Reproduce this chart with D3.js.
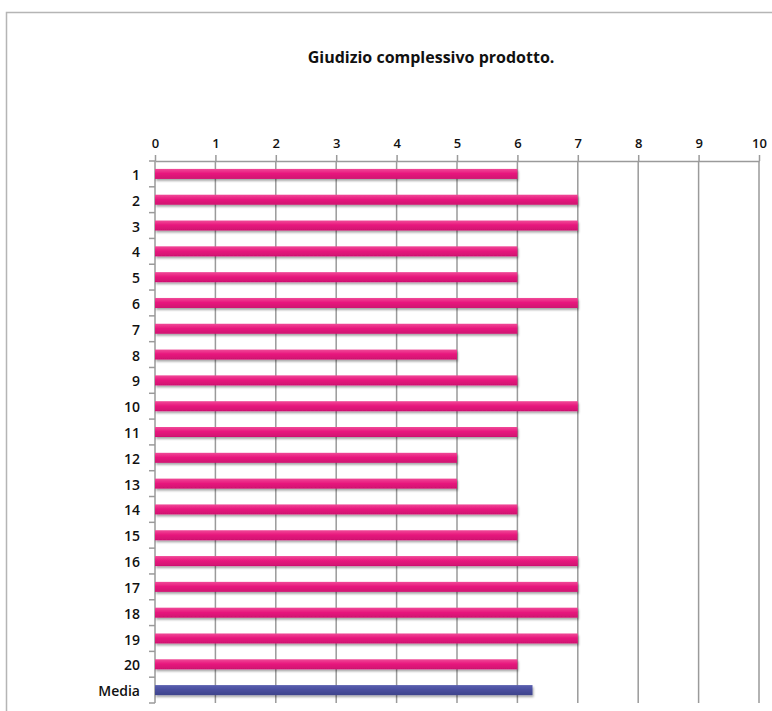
<!DOCTYPE html>
<html>
<head>
<meta charset="utf-8">
<script src="https://cdn.jsdelivr.net/npm/d3@7"></script>
<style>
  html, body { margin: 0; padding: 0; background: #fff; }
  svg { display: block; }
  text { font-family: "Open Sans", "Noto Sans", sans-serif; fill: #111; }
</style>
</head>
<body>
<svg id="chart" width="772" height="711"></svg>
<script>
// Product ratings per respondent, plus the overall mean
const respondents = ["1","2","3","4","5","6","7","8","9","10","11","12","13","14","15","16","17","18","19","20"];
const ratings = [6,7,7,6,6,7,6,5,6,7,6,5,5,6,6,7,7,7,7,6];
const meanLabel = "Media";
const xTicks = [0,1,2,3,4,5,6,7,8,9,10];
const title = "Giudizio complessivo prodotto.";

const meanValue = d3.mean(ratings);
const categories = respondents.concat([meanLabel]);
const values = ratings.concat([meanValue]);
const rows = categories.map((c, i) => ({ cat: c, value: values[i], isMean: c === meanLabel }));

const svg = d3.select("#chart");
const W = 772, H = 711;
const plot = { left: 155, right: 759, top: 161, bottom: 703 };

// Outer frame
svg.append("path")
  .attr("d", `M6.5,${H + 5} V12.5 H${W + 5}`)
  .attr("fill", "none").attr("stroke", "#b5b5b5").attr("stroke-width", 1.5);

// Title
svg.append("text")
  .attr("x", 431).attr("y", 63)
  .attr("text-anchor", "middle")
  .attr("font-size", 16).attr("font-weight", "bold")
  .text(title);

const x = d3.scaleLinear().domain([0, 10]).range([plot.left, plot.right]);
const y = d3.scaleBand().domain(categories).range([plot.top, plot.bottom]);

// Gradients and shadow for the bars
const defs = svg.append("defs");
function grad(id, light, mid, dark) {
  const g = defs.append("linearGradient").attr("id", id)
    .attr("x1", 0).attr("y1", 0).attr("x2", 0).attr("y2", 1);
  g.append("stop").attr("offset", "0%").attr("stop-color", light);
  g.append("stop").attr("offset", "45%").attr("stop-color", mid);
  g.append("stop").attr("offset", "100%").attr("stop-color", dark);
}
grad("gPink", "#f04a98", "#e8197e", "#cf1070");
grad("gBlue", "#5a60b0", "#4a4f9f", "#3e438c");
const f = defs.append("filter").attr("id", "shadow")
  .attr("x", "-5%").attr("y", "-50%").attr("width", "110%").attr("height", "220%");
f.append("feDropShadow").attr("dx", 1).attr("dy", 2).attr("stdDeviation", 1.2)
  .attr("flood-color", "#000").attr("flood-opacity", 0.35);

// Vertical gridlines
svg.append("g").selectAll("line")
  .data(xTicks.slice(1))
  .join("line")
  .attr("x1", d => x(d)).attr("x2", d => x(d))
  .attr("y1", plot.top).attr("y2", plot.bottom)
  .attr("stroke", "#9a9a9a").attr("stroke-width", 1.5);

// Top value axis
const xAxis = svg.append("g")
  .attr("transform", `translate(0,${plot.top})`)
  .call(d3.axisTop(x).tickValues(xTicks).tickSize(6).tickSizeOuter(0).tickPadding(7));
xAxis.select(".domain").attr("stroke", "#9a9a9a").attr("stroke-width", 1.5);
xAxis.selectAll(".tick line").attr("stroke", "#9a9a9a").attr("stroke-width", 1.5);
xAxis.selectAll(".tick text").attr("font-size", 13).attr("font-weight", 600).attr("fill", "#111")
  .attr("font-family", "'Open Sans', sans-serif");

// Left category axis with ticks between rows
const yAxisG = svg.append("g");
yAxisG.append("line")
  .attr("x1", plot.left).attr("x2", plot.left)
  .attr("y1", plot.top).attr("y2", plot.bottom)
  .attr("stroke", "#9a9a9a").attr("stroke-width", 1.5);
const boundaries = categories.map(c => y(c)).concat([plot.bottom]);
yAxisG.selectAll("line.b")
  .data(boundaries)
  .join("line").attr("class", "b")
  .attr("x1", plot.left - 6).attr("x2", plot.left)
  .attr("y1", d => d).attr("y2", d => d)
  .attr("stroke", "#9a9a9a").attr("stroke-width", 1.5);
yAxisG.selectAll("text")
  .data(categories)
  .join("text")
  .attr("x", 140)
  .attr("y", d => y(d) + y.bandwidth() / 2 + 1)
  .attr("dy", "0.36em")
  .attr("text-anchor", "end")
  .attr("font-size", 14).attr("font-weight", 600)
  .text(d => d);

// Bars
const barH = 10;
svg.append("g").selectAll("rect")
  .data(rows)
  .join("rect")
  .attr("x", x(0))
  .attr("y", d => y(d.cat) + y.bandwidth() / 2 - barH / 2)
  .attr("width", d => x(d.value) - x(0))
  .attr("height", barH)
  .attr("fill", d => d.isMean ? "url(#gBlue)" : "url(#gPink)")
  .attr("filter", "url(#shadow)");
</script>
</body>
</html>
